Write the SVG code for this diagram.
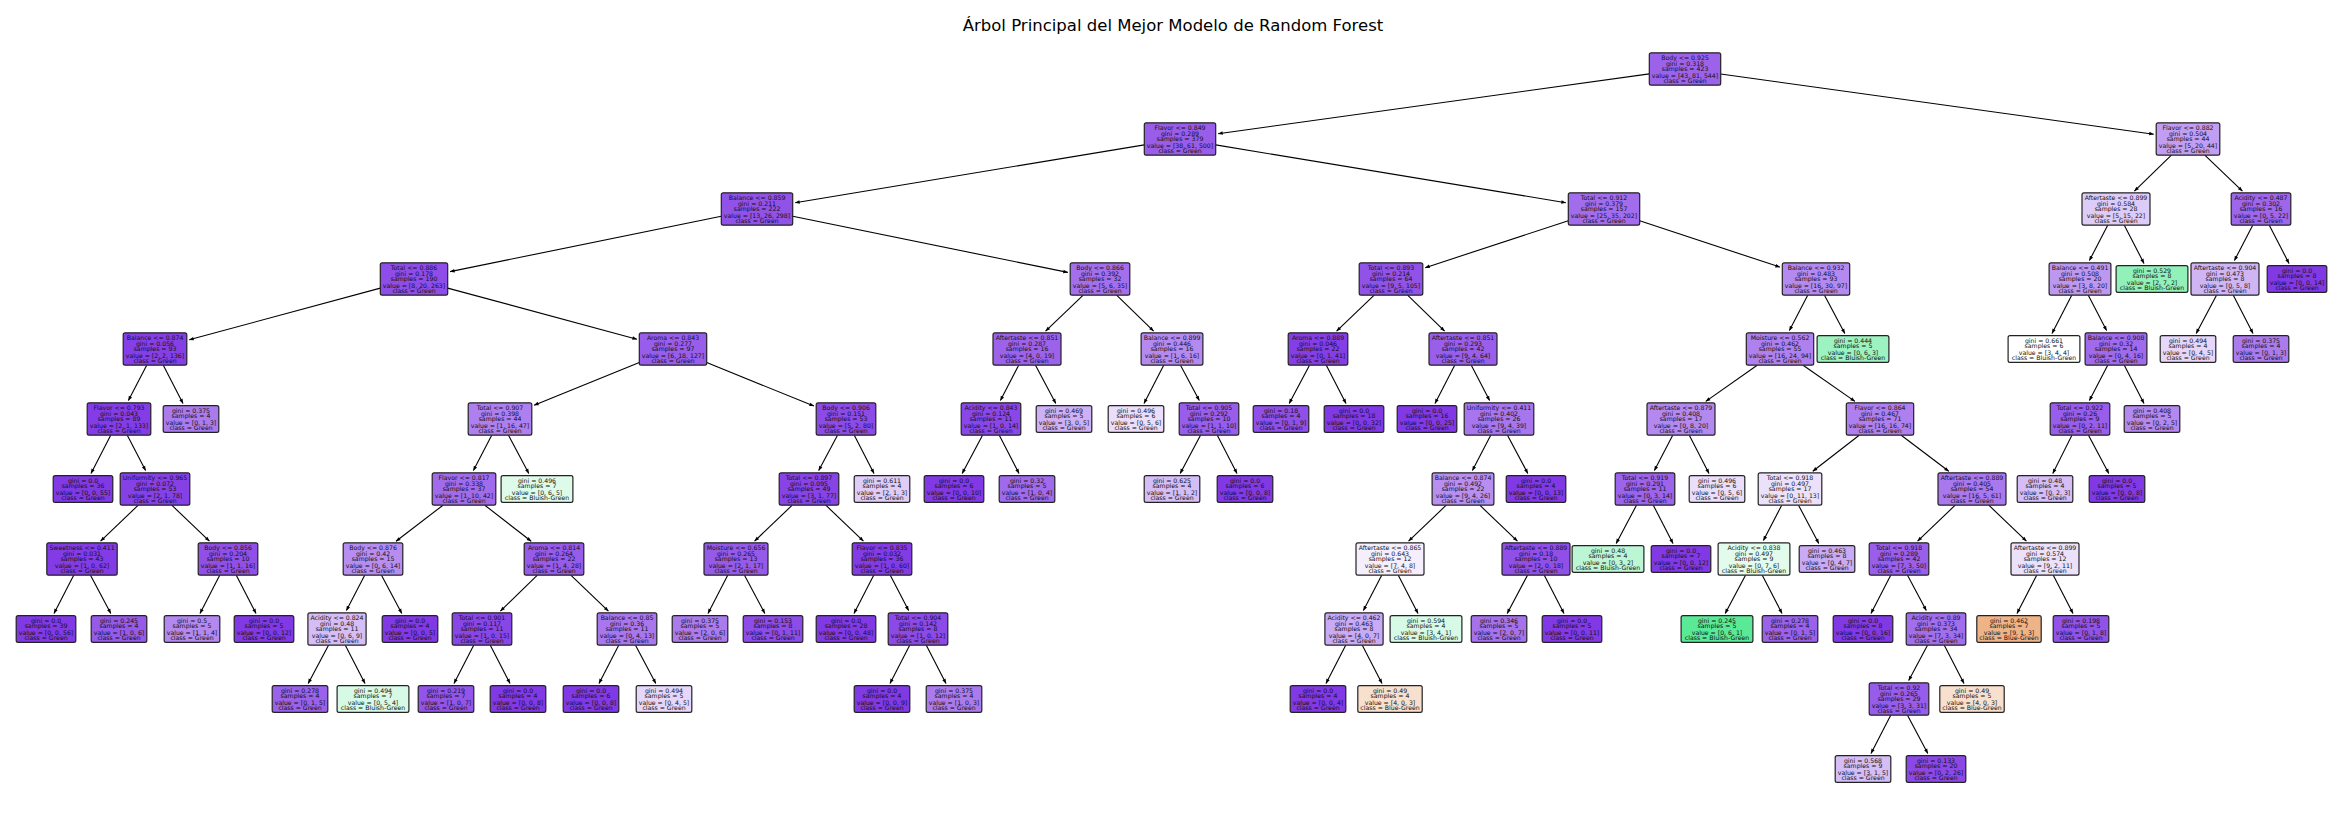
<svg xmlns="http://www.w3.org/2000/svg" width="2345" height="814" viewBox="0 0 2345 814">
<style>
rect.b{stroke:#222;stroke-width:1.2;rx:1.9px;ry:1.9px}
text{font-family:"DejaVu Sans","Liberation Sans",sans-serif;font-size:6.2px;text-anchor:middle;fill:#111}
#title{font-size:16.5px;fill:#000}
#edges line{stroke:#000;stroke-width:1.1;marker-end:url(#ah)}
</style>
<defs>
<marker id="ah" viewBox="-5 -2.5 6 5" refX="0" refY="0" markerWidth="6" markerHeight="5" markerUnits="userSpaceOnUse" orient="auto"><path d="M0.3,0 L-4.5,-1.8 L-4.5,1.8 Z" fill="#000"/></marker>
</defs>
<rect width="2345" height="814" fill="#fff"/>
<text id="title" x="1173" y="31">Árbol Principal del Mejor Modelo de Random Forest</text>
<g id="edges">
<line x1="1649.3" y1="73.9" x2="1218.2" y2="133.7"/>
<line x1="1720.7" y1="74" x2="2153.7" y2="134.2"/>
<line x1="1144.3" y1="144.9" x2="795.2" y2="202.7"/>
<line x1="1215.7" y1="144.9" x2="1565.8" y2="202.7"/>
<line x1="2171.4" y1="155.2" x2="2134.4" y2="191.1"/>
<line x1="2204.8" y1="155.2" x2="2242.4" y2="191.1"/>
<line x1="721.3" y1="216.3" x2="450.1" y2="271.6"/>
<line x1="792.7" y1="216.3" x2="1067.8" y2="272.4"/>
<line x1="1568.3" y1="220.7" x2="1425.2" y2="267.7"/>
<line x1="1639.7" y1="220.7" x2="1779.9" y2="267.1"/>
<line x1="2107.7" y1="225.2" x2="2089.4" y2="260.6"/>
<line x1="2124.3" y1="225.2" x2="2144" y2="263.4"/>
<line x1="2252.7" y1="225.2" x2="2234.4" y2="260.6"/>
<line x1="2269.3" y1="225.2" x2="2289" y2="263.4"/>
<line x1="380.3" y1="288.1" x2="189.2" y2="339.8"/>
<line x1="447.7" y1="288.1" x2="636.9" y2="339.2"/>
<line x1="1083.2" y1="295.2" x2="1045.6" y2="331.1"/>
<line x1="1116.6" y1="295.2" x2="1153.6" y2="331.1"/>
<line x1="1374.2" y1="295.2" x2="1336.6" y2="331.1"/>
<line x1="1407.6" y1="295.2" x2="1444.6" y2="331.1"/>
<line x1="1807.7" y1="295.2" x2="1789.4" y2="330.6"/>
<line x1="1824.5" y1="295.2" x2="1844.8" y2="333.4"/>
<line x1="2071.7" y1="295.2" x2="2052" y2="333.4"/>
<line x1="2088.3" y1="295.2" x2="2106.6" y2="330.6"/>
<line x1="2216.5" y1="295.2" x2="2196.2" y2="333.4"/>
<line x1="2233.3" y1="295.2" x2="2253" y2="333.4"/>
<line x1="146.7" y1="365.2" x2="128.4" y2="400.6"/>
<line x1="163.3" y1="365.2" x2="183" y2="403.4"/>
<line x1="639.3" y1="362.6" x2="534.1" y2="405.2"/>
<line x1="706.7" y1="362.6" x2="813.9" y2="406"/>
<line x1="1018.7" y1="365.2" x2="1000.4" y2="400.6"/>
<line x1="1035.5" y1="365.2" x2="1055.8" y2="403.4"/>
<line x1="1163.7" y1="365.2" x2="1144" y2="403.4"/>
<line x1="1180.5" y1="365.2" x2="1199.3" y2="400.6"/>
<line x1="1309.5" y1="365.2" x2="1289.2" y2="403.4"/>
<line x1="1326.3" y1="365.2" x2="1346" y2="403.4"/>
<line x1="1454.7" y1="365.2" x2="1435" y2="403.4"/>
<line x1="1471.3" y1="365.2" x2="1489.6" y2="400.6"/>
<line x1="1757.2" y1="365.2" x2="1705.8" y2="401.4"/>
<line x1="1803.1" y1="365.2" x2="1854.9" y2="401.4"/>
<line x1="2107.7" y1="365.2" x2="2089.4" y2="400.6"/>
<line x1="2124.3" y1="365.2" x2="2144" y2="403.4"/>
<line x1="110.7" y1="435.2" x2="91" y2="473.4"/>
<line x1="127.3" y1="435.2" x2="145.6" y2="470.6"/>
<line x1="491.7" y1="435.2" x2="473.4" y2="470.6"/>
<line x1="508.5" y1="435.2" x2="528.8" y2="473.4"/>
<line x1="837.5" y1="435.2" x2="818.7" y2="470.6"/>
<line x1="854.3" y1="435.2" x2="874" y2="473.4"/>
<line x1="982.5" y1="435.2" x2="962.2" y2="473.4"/>
<line x1="999.3" y1="435.2" x2="1019" y2="473.4"/>
<line x1="1200.5" y1="435.2" x2="1180.2" y2="473.4"/>
<line x1="1217.3" y1="435.2" x2="1237" y2="473.4"/>
<line x1="1490.7" y1="435.2" x2="1472.4" y2="470.6"/>
<line x1="1507.5" y1="435.2" x2="1527.8" y2="473.4"/>
<line x1="1672.7" y1="435.2" x2="1654.4" y2="470.6"/>
<line x1="1689.3" y1="435.2" x2="1709" y2="473.4"/>
<line x1="1859.2" y1="435.2" x2="1812.8" y2="471.3"/>
<line x1="1901.2" y1="435.2" x2="1948.8" y2="471.3"/>
<line x1="2071.9" y1="435.2" x2="2052.8" y2="473.4"/>
<line x1="2088.5" y1="435.2" x2="2108.8" y2="473.4"/>
<line x1="138.2" y1="505.2" x2="100.6" y2="541.1"/>
<line x1="171.8" y1="505.2" x2="209.4" y2="541.1"/>
<line x1="443" y1="505.2" x2="396" y2="541.3"/>
<line x1="484.8" y1="505.2" x2="531.2" y2="541.3"/>
<line x1="792.2" y1="505.2" x2="754.6" y2="541.1"/>
<line x1="825.8" y1="505.2" x2="863.4" y2="541.1"/>
<line x1="1446.2" y1="505.2" x2="1408.6" y2="541.1"/>
<line x1="1479.8" y1="505.2" x2="1517.4" y2="541.1"/>
<line x1="1636.5" y1="505.2" x2="1616.2" y2="543.4"/>
<line x1="1653.3" y1="505.2" x2="1673" y2="543.4"/>
<line x1="1781.7" y1="505.2" x2="1763.4" y2="540.6"/>
<line x1="1798.5" y1="505.2" x2="1818.8" y2="543.4"/>
<line x1="1955.2" y1="505.2" x2="1917.6" y2="541.1"/>
<line x1="1988.8" y1="505.2" x2="2026.4" y2="541.1"/>
<line x1="73.7" y1="575.2" x2="54" y2="613.4"/>
<line x1="90.5" y1="575.2" x2="110.8" y2="613.4"/>
<line x1="219.7" y1="575.2" x2="200" y2="613.4"/>
<line x1="236.3" y1="575.2" x2="256" y2="613.4"/>
<line x1="364.7" y1="575.2" x2="346.4" y2="610.6"/>
<line x1="381.5" y1="575.2" x2="401.8" y2="613.4"/>
<line x1="537.4" y1="575.2" x2="500.4" y2="611.1"/>
<line x1="570.8" y1="575.2" x2="608.4" y2="611.1"/>
<line x1="727.7" y1="575.2" x2="708" y2="613.4"/>
<line x1="744.5" y1="575.2" x2="764.8" y2="613.4"/>
<line x1="873.7" y1="575.2" x2="854" y2="613.4"/>
<line x1="890.3" y1="575.2" x2="908.6" y2="610.6"/>
<line x1="1381.7" y1="575.2" x2="1363.4" y2="610.6"/>
<line x1="1398.3" y1="575.2" x2="1418" y2="613.4"/>
<line x1="1527.5" y1="575.2" x2="1507.2" y2="613.4"/>
<line x1="1544.3" y1="575.2" x2="1564" y2="613.4"/>
<line x1="1745.5" y1="575.2" x2="1725.2" y2="613.4"/>
<line x1="1762.3" y1="575.2" x2="1782" y2="613.4"/>
<line x1="1890.7" y1="575.2" x2="1871" y2="613.4"/>
<line x1="1907.5" y1="575.2" x2="1926.3" y2="610.6"/>
<line x1="2036.7" y1="575.2" x2="2017" y2="613.4"/>
<line x1="2053.3" y1="575.2" x2="2073" y2="613.4"/>
<line x1="328.5" y1="645.2" x2="308.2" y2="683.4"/>
<line x1="345.3" y1="645.2" x2="365" y2="683.4"/>
<line x1="473.7" y1="645.2" x2="454" y2="683.4"/>
<line x1="490.3" y1="645.2" x2="510" y2="683.4"/>
<line x1="618.7" y1="645.2" x2="599" y2="683.4"/>
<line x1="635.5" y1="645.2" x2="655.8" y2="683.4"/>
<line x1="909.7" y1="645.2" x2="890" y2="683.4"/>
<line x1="926.3" y1="645.2" x2="946" y2="683.4"/>
<line x1="1345.7" y1="645.2" x2="1326" y2="683.4"/>
<line x1="1362.3" y1="645.2" x2="1382" y2="683.4"/>
<line x1="1927.5" y1="645.2" x2="1908.7" y2="680.6"/>
<line x1="1944.3" y1="645.2" x2="1964" y2="683.4"/>
<line x1="1890.7" y1="715.2" x2="1871" y2="753.4"/>
<line x1="1907.5" y1="715.2" x2="1927.8" y2="753.4"/>
</g>
<g id="n0" transform="translate(1685,69)"><rect class="b" x="-35.7" y="-16.15" width="71.4" height="32.3" fill="#9c63ea"/><text><tspan x="0" y="-9.2">Body &lt;= 0.925</tspan><tspan x="0" y="-3.1">gini = 0.318</tspan><tspan x="0" y="1.9">samples = 423</tspan><tspan x="0" y="8.7">value = [43, 81, 544]</tspan><tspan x="0" y="13.9">class = Green</tspan></text></g>
<g id="n1" transform="translate(1180,139)"><rect class="b" x="-35.7" y="-16.15" width="71.4" height="32.3" fill="#985de9"/><text><tspan x="0" y="-9.2">Flavor &lt;= 0.849</tspan><tspan x="0" y="-3.1">gini = 0.289</tspan><tspan x="0" y="1.9">samples = 379</tspan><tspan x="0" y="8.7">value = [38, 61, 500]</tspan><tspan x="0" y="13.9">class = Green</tspan></text></g>
<g id="n2" transform="translate(2188,139)"><rect class="b" x="-31.8" y="-16.15" width="63.6" height="32.3" fill="#c19ef2"/><text><tspan x="0" y="-9.2">Flavor &lt;= 0.882</tspan><tspan x="0" y="-3.1">gini = 0.504</tspan><tspan x="0" y="1.9">samples = 44</tspan><tspan x="0" y="8.7">value = [5, 20, 44]</tspan><tspan x="0" y="13.9">class = Green</tspan></text></g>
<g id="n3" transform="translate(757,209)"><rect class="b" x="-35.7" y="-16.15" width="71.4" height="32.3" fill="#9152e8"/><text><tspan x="0" y="-9.2">Balance &lt;= 0.859</tspan><tspan x="0" y="-3.1">gini = 0.211</tspan><tspan x="0" y="1.9">samples = 222</tspan><tspan x="0" y="8.7">value = [13, 26, 298]</tspan><tspan x="0" y="13.9">class = Green</tspan></text></g>
<g id="n4" transform="translate(1604,209)"><rect class="b" x="-35.7" y="-16.15" width="71.4" height="32.3" fill="#a26dec"/><text><tspan x="0" y="-9.2">Total &lt;= 0.912</tspan><tspan x="0" y="-3.1">gini = 0.379</tspan><tspan x="0" y="1.9">samples = 157</tspan><tspan x="0" y="8.7">value = [25, 35, 202]</tspan><tspan x="0" y="13.9">class = Green</tspan></text></g>
<g id="n5" transform="translate(2116,209)"><rect class="b" x="-34" y="-16.15" width="68" height="32.3" fill="#deccf8"/><text><tspan x="0" y="-9.2">Aftertaste &lt;= 0.899</tspan><tspan x="0" y="-3.1">gini = 0.584</tspan><tspan x="0" y="1.9">samples = 28</tspan><tspan x="0" y="8.7">value = [5, 15, 22]</tspan><tspan x="0" y="13.9">class = Green</tspan></text></g>
<g id="n6" transform="translate(2261,209)"><rect class="b" x="-29.8" y="-16.15" width="59.6" height="32.3" fill="#9e66eb"/><text><tspan x="0" y="-9.2">Acidity &lt;= 0.487</tspan><tspan x="0" y="-3.1">gini = 0.302</tspan><tspan x="0" y="1.9">samples = 16</tspan><tspan x="0" y="8.7">value = [0, 5, 22]</tspan><tspan x="0" y="13.9">class = Green</tspan></text></g>
<g id="n7" transform="translate(414,279)"><rect class="b" x="-33.7" y="-16.15" width="67.4" height="32.3" fill="#8e4de8"/><text><tspan x="0" y="-9.2">Total &lt;= 0.886</tspan><tspan x="0" y="-3.1">gini = 0.178</tspan><tspan x="0" y="1.9">samples = 190</tspan><tspan x="0" y="8.7">value = [8, 20, 263]</tspan><tspan x="0" y="13.9">class = Green</tspan></text></g>
<g id="n8" transform="translate(1100,279)"><rect class="b" x="-29.8" y="-16.15" width="59.6" height="32.3" fill="#a46fec"/><text><tspan x="0" y="-9.2">Body &lt;= 0.866</tspan><tspan x="0" y="-3.1">gini = 0.392</tspan><tspan x="0" y="1.9">samples = 32</tspan><tspan x="0" y="8.7">value = [5, 6, 35]</tspan><tspan x="0" y="13.9">class = Green</tspan></text></g>
<g id="n9" transform="translate(1391,279)"><rect class="b" x="-31.8" y="-16.15" width="63.6" height="32.3" fill="#9152e8"/><text><tspan x="0" y="-9.2">Total &lt;= 0.893</tspan><tspan x="0" y="-3.1">gini = 0.214</tspan><tspan x="0" y="1.9">samples = 64</tspan><tspan x="0" y="8.7">value = [9, 5, 105]</tspan><tspan x="0" y="13.9">class = Green</tspan></text></g>
<g id="n10" transform="translate(1816,279)"><rect class="b" x="-33.7" y="-16.15" width="67.4" height="32.3" fill="#b48af0"/><text><tspan x="0" y="-9.2">Balance &lt;= 0.932</tspan><tspan x="0" y="-3.1">gini = 0.483</tspan><tspan x="0" y="1.9">samples = 93</tspan><tspan x="0" y="8.7">value = [16, 30, 97]</tspan><tspan x="0" y="13.9">class = Green</tspan></text></g>
<g id="n11" transform="translate(2080,279)"><rect class="b" x="-30.9" y="-16.15" width="61.8" height="32.3" fill="#bd98f1"/><text><tspan x="0" y="-9.2">Balance &lt;= 0.491</tspan><tspan x="0" y="-3.1">gini = 0.508</tspan><tspan x="0" y="1.9">samples = 20</tspan><tspan x="0" y="8.7">value = [3, 8, 20]</tspan><tspan x="0" y="13.9">class = Green</tspan></text></g>
<g id="n12" transform="translate(2152,279)"><rect class="b" x="-35.9" y="-13.35" width="71.8" height="26.7" fill="#91f1b9"/><text><tspan x="0" y="-6.5">gini = 0.529</tspan><tspan x="0" y="-1.2">samples = 8</tspan><tspan x="0" y="5.5">value = [2, 7, 2]</tspan><tspan x="0" y="10.8">class = Bluish-Green</tspan></text></g>
<g id="n13" transform="translate(2225,279)"><rect class="b" x="-34" y="-16.15" width="68" height="32.3" fill="#d0b5f5"/><text><tspan x="0" y="-9.2">Aftertaste &lt;= 0.904</tspan><tspan x="0" y="-3.1">gini = 0.473</tspan><tspan x="0" y="1.9">samples = 8</tspan><tspan x="0" y="8.7">value = [0, 5, 8]</tspan><tspan x="0" y="13.9">class = Green</tspan></text></g>
<g id="n14" transform="translate(2297,279)"><rect class="b" x="-29.8" y="-13.35" width="59.6" height="26.7" fill="#8139e5"/><text><tspan x="0" y="-6.5">gini = 0.0</tspan><tspan x="0" y="-1.2">samples = 8</tspan><tspan x="0" y="5.5">value = [0, 0, 14]</tspan><tspan x="0" y="10.8">class = Green</tspan></text></g>
<g id="n15" transform="translate(155,349)"><rect class="b" x="-31.8" y="-16.15" width="63.6" height="32.3" fill="#853fe6"/><text><tspan x="0" y="-9.2">Balance &lt;= 0.874</tspan><tspan x="0" y="-3.1">gini = 0.056</tspan><tspan x="0" y="1.9">samples = 93</tspan><tspan x="0" y="8.7">value = [2, 2, 136]</tspan><tspan x="0" y="13.9">class = Green</tspan></text></g>
<g id="n16" transform="translate(673,349)"><rect class="b" x="-33.7" y="-16.15" width="67.4" height="32.3" fill="#985dea"/><text><tspan x="0" y="-9.2">Aroma &lt;= 0.843</tspan><tspan x="0" y="-3.1">gini = 0.277</tspan><tspan x="0" y="1.9">samples = 97</tspan><tspan x="0" y="8.7">value = [6, 18, 127]</tspan><tspan x="0" y="13.9">class = Green</tspan></text></g>
<g id="n17" transform="translate(1027,349)"><rect class="b" x="-34" y="-16.15" width="68" height="32.3" fill="#9c63ea"/><text><tspan x="0" y="-9.2">Aftertaste &lt;= 0.851</tspan><tspan x="0" y="-3.1">gini = 0.287</tspan><tspan x="0" y="1.9">samples = 16</tspan><tspan x="0" y="8.7">value = [4, 0, 19]</tspan><tspan x="0" y="13.9">class = Green</tspan></text></g>
<g id="n18" transform="translate(1172,349)"><rect class="b" x="-30.9" y="-16.15" width="61.8" height="32.3" fill="#b58af0"/><text><tspan x="0" y="-9.2">Balance &lt;= 0.899</tspan><tspan x="0" y="-3.1">gini = 0.446</tspan><tspan x="0" y="1.9">samples = 16</tspan><tspan x="0" y="8.7">value = [1, 6, 16]</tspan><tspan x="0" y="13.9">class = Green</tspan></text></g>
<g id="n19" transform="translate(1318,349)"><rect class="b" x="-29.8" y="-16.15" width="59.6" height="32.3" fill="#843ee6"/><text><tspan x="0" y="-9.2">Aroma &lt;= 0.889</tspan><tspan x="0" y="-3.1">gini = 0.046</tspan><tspan x="0" y="1.9">samples = 22</tspan><tspan x="0" y="8.7">value = [0, 1, 41]</tspan><tspan x="0" y="13.9">class = Green</tspan></text></g>
<g id="n20" transform="translate(1463,349)"><rect class="b" x="-34" y="-16.15" width="68" height="32.3" fill="#995fea"/><text><tspan x="0" y="-9.2">Aftertaste &lt;= 0.851</tspan><tspan x="0" y="-3.1">gini = 0.293</tspan><tspan x="0" y="1.9">samples = 42</tspan><tspan x="0" y="8.7">value = [9, 4, 64]</tspan><tspan x="0" y="13.9">class = Green</tspan></text></g>
<g id="n21" transform="translate(1780,349)"><rect class="b" x="-33.7" y="-16.15" width="67.4" height="32.3" fill="#af81ee"/><text><tspan x="0" y="-9.2">Moisture &lt;= 0.562</tspan><tspan x="0" y="-3.1">gini = 0.462</tspan><tspan x="0" y="1.9">samples = 55</tspan><tspan x="0" y="8.7">value = [16, 24, 94]</tspan><tspan x="0" y="13.9">class = Green</tspan></text></g>
<g id="n22" transform="translate(1853,349)"><rect class="b" x="-35.9" y="-13.35" width="71.8" height="26.7" fill="#9cf2c0"/><text><tspan x="0" y="-6.5">gini = 0.444</tspan><tspan x="0" y="-1.2">samples = 5</tspan><tspan x="0" y="5.5">value = [0, 6, 3]</tspan><tspan x="0" y="10.8">class = Bluish-Green</tspan></text></g>
<g id="n23" transform="translate(2044,349)"><rect class="b" x="-35.9" y="-13.35" width="71.8" height="26.7" fill="#ffffff"/><text><tspan x="0" y="-6.5">gini = 0.661</tspan><tspan x="0" y="-1.2">samples = 6</tspan><tspan x="0" y="5.5">value = [3, 4, 4]</tspan><tspan x="0" y="10.8">class = Bluish-Green</tspan></text></g>
<g id="n24" transform="translate(2116,349)"><rect class="b" x="-30.9" y="-16.15" width="61.8" height="32.3" fill="#a06aec"/><text><tspan x="0" y="-9.2">Balance &lt;= 0.908</tspan><tspan x="0" y="-3.1">gini = 0.32</tspan><tspan x="0" y="1.9">samples = 14</tspan><tspan x="0" y="8.7">value = [0, 4, 16]</tspan><tspan x="0" y="13.9">class = Green</tspan></text></g>
<g id="n25" transform="translate(2188,349)"><rect class="b" x="-27.8" y="-13.35" width="55.6" height="26.7" fill="#e6d7fa"/><text><tspan x="0" y="-6.5">gini = 0.494</tspan><tspan x="0" y="-1.2">samples = 4</tspan><tspan x="0" y="5.5">value = [0, 4, 5]</tspan><tspan x="0" y="10.8">class = Green</tspan></text></g>
<g id="n26" transform="translate(2261,349)"><rect class="b" x="-27.8" y="-13.35" width="55.6" height="26.7" fill="#ab7bee"/><text><tspan x="0" y="-6.5">gini = 0.375</tspan><tspan x="0" y="-1.2">samples = 4</tspan><tspan x="0" y="5.5">value = [0, 1, 3]</tspan><tspan x="0" y="10.8">class = Green</tspan></text></g>
<g id="n27" transform="translate(119,419)"><rect class="b" x="-31.8" y="-16.15" width="63.6" height="32.3" fill="#843de6"/><text><tspan x="0" y="-9.2">Flavor &lt;= 0.793</tspan><tspan x="0" y="-3.1">gini = 0.043</tspan><tspan x="0" y="1.9">samples = 89</tspan><tspan x="0" y="8.7">value = [2, 1, 133]</tspan><tspan x="0" y="13.9">class = Green</tspan></text></g>
<g id="n28" transform="translate(191,419)"><rect class="b" x="-27.8" y="-13.35" width="55.6" height="26.7" fill="#ab7bee"/><text><tspan x="0" y="-6.5">gini = 0.375</tspan><tspan x="0" y="-1.2">samples = 4</tspan><tspan x="0" y="5.5">value = [0, 1, 3]</tspan><tspan x="0" y="10.8">class = Green</tspan></text></g>
<g id="n29" transform="translate(500,419)"><rect class="b" x="-31.8" y="-16.15" width="63.6" height="32.3" fill="#ae7fee"/><text><tspan x="0" y="-9.2">Total &lt;= 0.907</tspan><tspan x="0" y="-3.1">gini = 0.398</tspan><tspan x="0" y="1.9">samples = 44</tspan><tspan x="0" y="8.7">value = [1, 16, 47]</tspan><tspan x="0" y="13.9">class = Green</tspan></text></g>
<g id="n30" transform="translate(846,419)"><rect class="b" x="-29.8" y="-16.15" width="59.6" height="32.3" fill="#8c4ae7"/><text><tspan x="0" y="-9.2">Body &lt;= 0.906</tspan><tspan x="0" y="-3.1">gini = 0.151</tspan><tspan x="0" y="1.9">samples = 53</tspan><tspan x="0" y="8.7">value = [5, 2, 80]</tspan><tspan x="0" y="13.9">class = Green</tspan></text></g>
<g id="n31" transform="translate(991,419)"><rect class="b" x="-29.8" y="-16.15" width="59.6" height="32.3" fill="#8a47e7"/><text><tspan x="0" y="-9.2">Acidity &lt;= 0.843</tspan><tspan x="0" y="-3.1">gini = 0.124</tspan><tspan x="0" y="1.9">samples = 11</tspan><tspan x="0" y="8.7">value = [1, 0, 14]</tspan><tspan x="0" y="13.9">class = Green</tspan></text></g>
<g id="n32" transform="translate(1064,419)"><rect class="b" x="-27.8" y="-13.35" width="55.6" height="26.7" fill="#cdb0f5"/><text><tspan x="0" y="-6.5">gini = 0.469</tspan><tspan x="0" y="-1.2">samples = 5</tspan><tspan x="0" y="5.5">value = [3, 0, 5]</tspan><tspan x="0" y="10.8">class = Green</tspan></text></g>
<g id="n33" transform="translate(1136,419)"><rect class="b" x="-27.8" y="-13.35" width="55.6" height="26.7" fill="#eadefb"/><text><tspan x="0" y="-6.5">gini = 0.496</tspan><tspan x="0" y="-1.2">samples = 6</tspan><tspan x="0" y="5.5">value = [0, 5, 6]</tspan><tspan x="0" y="10.8">class = Green</tspan></text></g>
<g id="n34" transform="translate(1209,419)"><rect class="b" x="-29.8" y="-16.15" width="59.6" height="32.3" fill="#985dea"/><text><tspan x="0" y="-9.2">Total &lt;= 0.905</tspan><tspan x="0" y="-3.1">gini = 0.292</tspan><tspan x="0" y="1.9">samples = 10</tspan><tspan x="0" y="8.7">value = [1, 1, 10]</tspan><tspan x="0" y="13.9">class = Green</tspan></text></g>
<g id="n35" transform="translate(1281,419)"><rect class="b" x="-27.8" y="-13.35" width="55.6" height="26.7" fill="#8f4fe8"/><text><tspan x="0" y="-6.5">gini = 0.18</tspan><tspan x="0" y="-1.2">samples = 4</tspan><tspan x="0" y="5.5">value = [0, 1, 9]</tspan><tspan x="0" y="10.8">class = Green</tspan></text></g>
<g id="n36" transform="translate(1354,419)"><rect class="b" x="-29.8" y="-13.35" width="59.6" height="26.7" fill="#8139e5"/><text><tspan x="0" y="-6.5">gini = 0.0</tspan><tspan x="0" y="-1.2">samples = 18</tspan><tspan x="0" y="5.5">value = [0, 0, 32]</tspan><tspan x="0" y="10.8">class = Green</tspan></text></g>
<g id="n37" transform="translate(1427,419)"><rect class="b" x="-29.8" y="-13.35" width="59.6" height="26.7" fill="#8139e5"/><text><tspan x="0" y="-6.5">gini = 0.0</tspan><tspan x="0" y="-1.2">samples = 16</tspan><tspan x="0" y="5.5">value = [0, 0, 25]</tspan><tspan x="0" y="10.8">class = Green</tspan></text></g>
<g id="n38" transform="translate(1499,419)"><rect class="b" x="-34.8" y="-16.15" width="69.6" height="32.3" fill="#a775ed"/><text><tspan x="0" y="-9.2">Uniformity &lt;= 0.411</tspan><tspan x="0" y="-3.1">gini = 0.402</tspan><tspan x="0" y="1.9">samples = 26</tspan><tspan x="0" y="8.7">value = [9, 4, 39]</tspan><tspan x="0" y="13.9">class = Green</tspan></text></g>
<g id="n39" transform="translate(1681,419)"><rect class="b" x="-34" y="-16.15" width="68" height="32.3" fill="#b388ef"/><text><tspan x="0" y="-9.2">Aftertaste &lt;= 0.879</tspan><tspan x="0" y="-3.1">gini = 0.408</tspan><tspan x="0" y="1.9">samples = 17</tspan><tspan x="0" y="8.7">value = [0, 8, 20]</tspan><tspan x="0" y="13.9">class = Green</tspan></text></g>
<g id="n40" transform="translate(1880,419)"><rect class="b" x="-33.7" y="-16.15" width="67.4" height="32.3" fill="#ae7fee"/><text><tspan x="0" y="-9.2">Flavor &lt;= 0.864</tspan><tspan x="0" y="-3.1">gini = 0.467</tspan><tspan x="0" y="1.9">samples = 71</tspan><tspan x="0" y="8.7">value = [16, 16, 74]</tspan><tspan x="0" y="13.9">class = Green</tspan></text></g>
<g id="n41" transform="translate(2080,419)"><rect class="b" x="-29.8" y="-16.15" width="59.6" height="32.3" fill="#985dea"/><text><tspan x="0" y="-9.2">Total &lt;= 0.922</tspan><tspan x="0" y="-3.1">gini = 0.26</tspan><tspan x="0" y="1.9">samples = 9</tspan><tspan x="0" y="8.7">value = [0, 2, 11]</tspan><tspan x="0" y="13.9">class = Green</tspan></text></g>
<g id="n42" transform="translate(2152,419)"><rect class="b" x="-27.8" y="-13.35" width="55.6" height="26.7" fill="#b388ef"/><text><tspan x="0" y="-6.5">gini = 0.408</tspan><tspan x="0" y="-1.2">samples = 5</tspan><tspan x="0" y="5.5">value = [0, 2, 5]</tspan><tspan x="0" y="10.8">class = Green</tspan></text></g>
<g id="n43" transform="translate(83,489)"><rect class="b" x="-29.8" y="-13.35" width="59.6" height="26.7" fill="#8139e5"/><text><tspan x="0" y="-6.5">gini = 0.0</tspan><tspan x="0" y="-1.2">samples = 36</tspan><tspan x="0" y="5.5">value = [0, 0, 55]</tspan><tspan x="0" y="10.8">class = Green</tspan></text></g>
<g id="n44" transform="translate(155,489)"><rect class="b" x="-34.8" y="-16.15" width="69.6" height="32.3" fill="#8641e6"/><text><tspan x="0" y="-9.2">Uniformity &lt;= 0.965</tspan><tspan x="0" y="-3.1">gini = 0.072</tspan><tspan x="0" y="1.9">samples = 53</tspan><tspan x="0" y="8.7">value = [2, 1, 78]</tspan><tspan x="0" y="13.9">class = Green</tspan></text></g>
<g id="n45" transform="translate(464,489)"><rect class="b" x="-31.8" y="-16.15" width="63.6" height="32.3" fill="#a16cec"/><text><tspan x="0" y="-9.2">Flavor &lt;= 0.817</tspan><tspan x="0" y="-3.1">gini = 0.338</tspan><tspan x="0" y="1.9">samples = 37</tspan><tspan x="0" y="8.7">value = [1, 10, 42]</tspan><tspan x="0" y="13.9">class = Green</tspan></text></g>
<g id="n46" transform="translate(537,489)"><rect class="b" x="-35.9" y="-13.35" width="71.8" height="26.7" fill="#defbea"/><text><tspan x="0" y="-6.5">gini = 0.496</tspan><tspan x="0" y="-1.2">samples = 7</tspan><tspan x="0" y="5.5">value = [0, 6, 5]</tspan><tspan x="0" y="10.8">class = Bluish-Green</tspan></text></g>
<g id="n47" transform="translate(809,489)"><rect class="b" x="-29.8" y="-16.15" width="59.6" height="32.3" fill="#8743e6"/><text><tspan x="0" y="-9.2">Total &lt;= 0.897</tspan><tspan x="0" y="-3.1">gini = 0.095</tspan><tspan x="0" y="1.9">samples = 49</tspan><tspan x="0" y="8.7">value = [3, 1, 77]</tspan><tspan x="0" y="13.9">class = Green</tspan></text></g>
<g id="n48" transform="translate(882,489)"><rect class="b" x="-27.8" y="-13.35" width="55.6" height="26.7" fill="#dfcdf8"/><text><tspan x="0" y="-6.5">gini = 0.611</tspan><tspan x="0" y="-1.2">samples = 4</tspan><tspan x="0" y="5.5">value = [2, 1, 3]</tspan><tspan x="0" y="10.8">class = Green</tspan></text></g>
<g id="n49" transform="translate(954,489)"><rect class="b" x="-29.8" y="-13.35" width="59.6" height="26.7" fill="#8139e5"/><text><tspan x="0" y="-6.5">gini = 0.0</tspan><tspan x="0" y="-1.2">samples = 6</tspan><tspan x="0" y="5.5">value = [0, 0, 10]</tspan><tspan x="0" y="10.8">class = Green</tspan></text></g>
<g id="n50" transform="translate(1027,489)"><rect class="b" x="-27.8" y="-13.35" width="55.6" height="26.7" fill="#a06aec"/><text><tspan x="0" y="-6.5">gini = 0.32</tspan><tspan x="0" y="-1.2">samples = 5</tspan><tspan x="0" y="5.5">value = [1, 0, 4]</tspan><tspan x="0" y="10.8">class = Green</tspan></text></g>
<g id="n51" transform="translate(1172,489)"><rect class="b" x="-27.8" y="-13.35" width="55.6" height="26.7" fill="#d5bdf6"/><text><tspan x="0" y="-6.5">gini = 0.625</tspan><tspan x="0" y="-1.2">samples = 4</tspan><tspan x="0" y="5.5">value = [1, 1, 2]</tspan><tspan x="0" y="10.8">class = Green</tspan></text></g>
<g id="n52" transform="translate(1245,489)"><rect class="b" x="-27.8" y="-13.35" width="55.6" height="26.7" fill="#8139e5"/><text><tspan x="0" y="-6.5">gini = 0.0</tspan><tspan x="0" y="-1.2">samples = 6</tspan><tspan x="0" y="5.5">value = [0, 0, 8]</tspan><tspan x="0" y="10.8">class = Green</tspan></text></g>
<g id="n53" transform="translate(1463,489)"><rect class="b" x="-30.9" y="-16.15" width="61.8" height="32.3" fill="#b88ff0"/><text><tspan x="0" y="-9.2">Balance &lt;= 0.874</tspan><tspan x="0" y="-3.1">gini = 0.492</tspan><tspan x="0" y="1.9">samples = 22</tspan><tspan x="0" y="8.7">value = [9, 4, 26]</tspan><tspan x="0" y="13.9">class = Green</tspan></text></g>
<g id="n54" transform="translate(1536,489)"><rect class="b" x="-29.8" y="-13.35" width="59.6" height="26.7" fill="#8139e5"/><text><tspan x="0" y="-6.5">gini = 0.0</tspan><tspan x="0" y="-1.2">samples = 4</tspan><tspan x="0" y="5.5">value = [0, 0, 13]</tspan><tspan x="0" y="10.8">class = Green</tspan></text></g>
<g id="n55" transform="translate(1645,489)"><rect class="b" x="-29.8" y="-16.15" width="59.6" height="32.3" fill="#9c63eb"/><text><tspan x="0" y="-9.2">Total &lt;= 0.919</tspan><tspan x="0" y="-3.1">gini = 0.291</tspan><tspan x="0" y="1.9">samples = 11</tspan><tspan x="0" y="8.7">value = [0, 3, 14]</tspan><tspan x="0" y="13.9">class = Green</tspan></text></g>
<g id="n56" transform="translate(1717,489)"><rect class="b" x="-27.8" y="-13.35" width="55.6" height="26.7" fill="#eadefb"/><text><tspan x="0" y="-6.5">gini = 0.496</tspan><tspan x="0" y="-1.2">samples = 6</tspan><tspan x="0" y="5.5">value = [0, 5, 6]</tspan><tspan x="0" y="10.8">class = Green</tspan></text></g>
<g id="n57" transform="translate(1790,489)"><rect class="b" x="-31.8" y="-16.15" width="63.6" height="32.3" fill="#ece1fb"/><text><tspan x="0" y="-9.2">Total &lt;= 0.918</tspan><tspan x="0" y="-3.1">gini = 0.497</tspan><tspan x="0" y="1.9">samples = 17</tspan><tspan x="0" y="8.7">value = [0, 11, 13]</tspan><tspan x="0" y="13.9">class = Green</tspan></text></g>
<g id="n58" transform="translate(1972,489)"><rect class="b" x="-34" y="-16.15" width="68" height="32.3" fill="#a978ed"/><text><tspan x="0" y="-9.2">Aftertaste &lt;= 0.889</tspan><tspan x="0" y="-3.1">gini = 0.405</tspan><tspan x="0" y="1.9">samples = 54</tspan><tspan x="0" y="8.7">value = [16, 5, 61]</tspan><tspan x="0" y="13.9">class = Green</tspan></text></g>
<g id="n59" transform="translate(2045,489)"><rect class="b" x="-27.8" y="-13.35" width="55.6" height="26.7" fill="#d5bdf6"/><text><tspan x="0" y="-6.5">gini = 0.48</tspan><tspan x="0" y="-1.2">samples = 4</tspan><tspan x="0" y="5.5">value = [0, 2, 3]</tspan><tspan x="0" y="10.8">class = Green</tspan></text></g>
<g id="n60" transform="translate(2117,489)"><rect class="b" x="-27.8" y="-13.35" width="55.6" height="26.7" fill="#8139e5"/><text><tspan x="0" y="-6.5">gini = 0.0</tspan><tspan x="0" y="-1.2">samples = 5</tspan><tspan x="0" y="5.5">value = [0, 0, 8]</tspan><tspan x="0" y="10.8">class = Green</tspan></text></g>
<g id="n61" transform="translate(82,559)"><rect class="b" x="-35.2" y="-16.15" width="70.4" height="32.3" fill="#833ce5"/><text><tspan x="0" y="-9.2">Sweetness &lt;= 0.411</tspan><tspan x="0" y="-3.1">gini = 0.031</tspan><tspan x="0" y="1.9">samples = 43</tspan><tspan x="0" y="8.7">value = [1, 0, 62]</tspan><tspan x="0" y="13.9">class = Green</tspan></text></g>
<g id="n62" transform="translate(228,559)"><rect class="b" x="-29.8" y="-16.15" width="59.6" height="32.3" fill="#9050e8"/><text><tspan x="0" y="-9.2">Body &lt;= 0.856</tspan><tspan x="0" y="-3.1">gini = 0.204</tspan><tspan x="0" y="1.9">samples = 10</tspan><tspan x="0" y="8.7">value = [1, 1, 16]</tspan><tspan x="0" y="13.9">class = Green</tspan></text></g>
<g id="n63" transform="translate(373,559)"><rect class="b" x="-29.8" y="-16.15" width="59.6" height="32.3" fill="#b78ef0"/><text><tspan x="0" y="-9.2">Body &lt;= 0.876</tspan><tspan x="0" y="-3.1">gini = 0.42</tspan><tspan x="0" y="1.9">samples = 15</tspan><tspan x="0" y="8.7">value = [0, 6, 14]</tspan><tspan x="0" y="13.9">class = Green</tspan></text></g>
<g id="n64" transform="translate(554,559)"><rect class="b" x="-29.8" y="-16.15" width="59.6" height="32.3" fill="#975be9"/><text><tspan x="0" y="-9.2">Aroma &lt;= 0.814</tspan><tspan x="0" y="-3.1">gini = 0.264</tspan><tspan x="0" y="1.9">samples = 22</tspan><tspan x="0" y="8.7">value = [1, 4, 28]</tspan><tspan x="0" y="13.9">class = Green</tspan></text></g>
<g id="n65" transform="translate(736,559)"><rect class="b" x="-32" y="-16.15" width="64" height="32.3" fill="#965ae9"/><text><tspan x="0" y="-9.2">Moisture &lt;= 0.656</tspan><tspan x="0" y="-3.1">gini = 0.265</tspan><tspan x="0" y="1.9">samples = 13</tspan><tspan x="0" y="8.7">value = [2, 1, 17]</tspan><tspan x="0" y="13.9">class = Green</tspan></text></g>
<g id="n66" transform="translate(882,559)"><rect class="b" x="-29.8" y="-16.15" width="59.6" height="32.3" fill="#833ce5"/><text><tspan x="0" y="-9.2">Flavor &lt;= 0.835</tspan><tspan x="0" y="-3.1">gini = 0.032</tspan><tspan x="0" y="1.9">samples = 36</tspan><tspan x="0" y="8.7">value = [1, 0, 60]</tspan><tspan x="0" y="13.9">class = Green</tspan></text></g>
<g id="n67" transform="translate(1390,559)"><rect class="b" x="-34" y="-16.15" width="68" height="32.3" fill="#f4eefd"/><text><tspan x="0" y="-9.2">Aftertaste &lt;= 0.865</tspan><tspan x="0" y="-3.1">gini = 0.643</tspan><tspan x="0" y="1.9">samples = 12</tspan><tspan x="0" y="8.7">value = [7, 4, 8]</tspan><tspan x="0" y="13.9">class = Green</tspan></text></g>
<g id="n68" transform="translate(1536,559)"><rect class="b" x="-34" y="-16.15" width="68" height="32.3" fill="#8f4fe8"/><text><tspan x="0" y="-9.2">Aftertaste &lt;= 0.889</tspan><tspan x="0" y="-3.1">gini = 0.18</tspan><tspan x="0" y="1.9">samples = 10</tspan><tspan x="0" y="8.7">value = [2, 0, 18]</tspan><tspan x="0" y="13.9">class = Green</tspan></text></g>
<g id="n69" transform="translate(1608,559)"><rect class="b" x="-35.9" y="-13.35" width="71.8" height="26.7" fill="#bdf6d5"/><text><tspan x="0" y="-6.5">gini = 0.48</tspan><tspan x="0" y="-1.2">samples = 4</tspan><tspan x="0" y="5.5">value = [0, 3, 2]</tspan><tspan x="0" y="10.8">class = Bluish-Green</tspan></text></g>
<g id="n70" transform="translate(1681,559)"><rect class="b" x="-29.8" y="-13.35" width="59.6" height="26.7" fill="#8139e5"/><text><tspan x="0" y="-6.5">gini = 0.0</tspan><tspan x="0" y="-1.2">samples = 7</tspan><tspan x="0" y="5.5">value = [0, 0, 12]</tspan><tspan x="0" y="10.8">class = Green</tspan></text></g>
<g id="n71" transform="translate(1754,559)"><rect class="b" x="-35.9" y="-16.15" width="71.8" height="32.3" fill="#e3fbed"/><text><tspan x="0" y="-9.2">Acidity &lt;= 0.838</tspan><tspan x="0" y="-3.1">gini = 0.497</tspan><tspan x="0" y="1.9">samples = 9</tspan><tspan x="0" y="8.7">value = [0, 7, 6]</tspan><tspan x="0" y="13.9">class = Bluish-Green</tspan></text></g>
<g id="n72" transform="translate(1827,559)"><rect class="b" x="-27.8" y="-13.35" width="55.6" height="26.7" fill="#c9aaf4"/><text><tspan x="0" y="-6.5">gini = 0.463</tspan><tspan x="0" y="-1.2">samples = 8</tspan><tspan x="0" y="5.5">value = [0, 4, 7]</tspan><tspan x="0" y="10.8">class = Green</tspan></text></g>
<g id="n73" transform="translate(1899,559)"><rect class="b" x="-29.8" y="-16.15" width="59.6" height="32.3" fill="#995eea"/><text><tspan x="0" y="-9.2">Total &lt;= 0.918</tspan><tspan x="0" y="-3.1">gini = 0.289</tspan><tspan x="0" y="1.9">samples = 42</tspan><tspan x="0" y="8.7">value = [7, 3, 50]</tspan><tspan x="0" y="13.9">class = Green</tspan></text></g>
<g id="n74" transform="translate(2045,559)"><rect class="b" x="-34" y="-16.15" width="68" height="32.3" fill="#ece1fb"/><text><tspan x="0" y="-9.2">Aftertaste &lt;= 0.899</tspan><tspan x="0" y="-3.1">gini = 0.574</tspan><tspan x="0" y="1.9">samples = 12</tspan><tspan x="0" y="8.7">value = [9, 2, 11]</tspan><tspan x="0" y="13.9">class = Green</tspan></text></g>
<g id="n75" transform="translate(46,629)"><rect class="b" x="-29.8" y="-13.35" width="59.6" height="26.7" fill="#8139e5"/><text><tspan x="0" y="-6.5">gini = 0.0</tspan><tspan x="0" y="-1.2">samples = 39</tspan><tspan x="0" y="5.5">value = [0, 0, 56]</tspan><tspan x="0" y="10.8">class = Green</tspan></text></g>
<g id="n76" transform="translate(119,629)"><rect class="b" x="-27.8" y="-13.35" width="55.6" height="26.7" fill="#965ae9"/><text><tspan x="0" y="-6.5">gini = 0.245</tspan><tspan x="0" y="-1.2">samples = 4</tspan><tspan x="0" y="5.5">value = [1, 0, 6]</tspan><tspan x="0" y="10.8">class = Green</tspan></text></g>
<g id="n77" transform="translate(192,629)"><rect class="b" x="-27.8" y="-13.35" width="55.6" height="26.7" fill="#b388ef"/><text><tspan x="0" y="-6.5">gini = 0.5</tspan><tspan x="0" y="-1.2">samples = 5</tspan><tspan x="0" y="5.5">value = [1, 1, 4]</tspan><tspan x="0" y="10.8">class = Green</tspan></text></g>
<g id="n78" transform="translate(264,629)"><rect class="b" x="-29.8" y="-13.35" width="59.6" height="26.7" fill="#8139e5"/><text><tspan x="0" y="-6.5">gini = 0.0</tspan><tspan x="0" y="-1.2">samples = 5</tspan><tspan x="0" y="5.5">value = [0, 0, 12]</tspan><tspan x="0" y="10.8">class = Green</tspan></text></g>
<g id="n79" transform="translate(337,629)"><rect class="b" x="-29.1" y="-16.15" width="58.2" height="32.3" fill="#d5bdf6"/><text><tspan x="0" y="-9.2">Acidity &lt;= 0.824</tspan><tspan x="0" y="-3.1">gini = 0.48</tspan><tspan x="0" y="1.9">samples = 11</tspan><tspan x="0" y="8.7">value = [0, 6, 9]</tspan><tspan x="0" y="13.9">class = Green</tspan></text></g>
<g id="n80" transform="translate(410,629)"><rect class="b" x="-27.8" y="-13.35" width="55.6" height="26.7" fill="#8139e5"/><text><tspan x="0" y="-6.5">gini = 0.0</tspan><tspan x="0" y="-1.2">samples = 4</tspan><tspan x="0" y="5.5">value = [0, 0, 5]</tspan><tspan x="0" y="10.8">class = Green</tspan></text></g>
<g id="n81" transform="translate(482,629)"><rect class="b" x="-29.8" y="-16.15" width="59.6" height="32.3" fill="#8946e7"/><text><tspan x="0" y="-9.2">Total &lt;= 0.901</tspan><tspan x="0" y="-3.1">gini = 0.117</tspan><tspan x="0" y="1.9">samples = 11</tspan><tspan x="0" y="8.7">value = [1, 0, 15]</tspan><tspan x="0" y="13.9">class = Green</tspan></text></g>
<g id="n82" transform="translate(627,629)"><rect class="b" x="-29.8" y="-16.15" width="59.6" height="32.3" fill="#a876ed"/><text><tspan x="0" y="-9.2">Balance &lt;= 0.85</tspan><tspan x="0" y="-3.1">gini = 0.36</tspan><tspan x="0" y="1.9">samples = 11</tspan><tspan x="0" y="8.7">value = [0, 4, 13]</tspan><tspan x="0" y="13.9">class = Green</tspan></text></g>
<g id="n83" transform="translate(700,629)"><rect class="b" x="-27.8" y="-13.35" width="55.6" height="26.7" fill="#ab7bee"/><text><tspan x="0" y="-6.5">gini = 0.375</tspan><tspan x="0" y="-1.2">samples = 5</tspan><tspan x="0" y="5.5">value = [2, 0, 6]</tspan><tspan x="0" y="10.8">class = Green</tspan></text></g>
<g id="n84" transform="translate(773,629)"><rect class="b" x="-29.8" y="-13.35" width="59.6" height="26.7" fill="#8d4be7"/><text><tspan x="0" y="-6.5">gini = 0.153</tspan><tspan x="0" y="-1.2">samples = 8</tspan><tspan x="0" y="5.5">value = [0, 1, 11]</tspan><tspan x="0" y="10.8">class = Green</tspan></text></g>
<g id="n85" transform="translate(846,629)"><rect class="b" x="-29.8" y="-13.35" width="59.6" height="26.7" fill="#8139e5"/><text><tspan x="0" y="-6.5">gini = 0.0</tspan><tspan x="0" y="-1.2">samples = 28</tspan><tspan x="0" y="5.5">value = [0, 0, 48]</tspan><tspan x="0" y="10.8">class = Green</tspan></text></g>
<g id="n86" transform="translate(918,629)"><rect class="b" x="-29.8" y="-16.15" width="59.6" height="32.3" fill="#8b4ae7"/><text><tspan x="0" y="-9.2">Total &lt;= 0.904</tspan><tspan x="0" y="-3.1">gini = 0.142</tspan><tspan x="0" y="1.9">samples = 8</tspan><tspan x="0" y="8.7">value = [1, 0, 12]</tspan><tspan x="0" y="13.9">class = Green</tspan></text></g>
<g id="n87" transform="translate(1354,629)"><rect class="b" x="-29.1" y="-16.15" width="58.2" height="32.3" fill="#c9aaf4"/><text><tspan x="0" y="-9.2">Acidity &lt;= 0.462</tspan><tspan x="0" y="-3.1">gini = 0.463</tspan><tspan x="0" y="1.9">samples = 8</tspan><tspan x="0" y="8.7">value = [4, 0, 7]</tspan><tspan x="0" y="13.9">class = Green</tspan></text></g>
<g id="n88" transform="translate(1426,629)"><rect class="b" x="-35.9" y="-13.35" width="71.8" height="26.7" fill="#d7fae6"/><text><tspan x="0" y="-6.5">gini = 0.594</tspan><tspan x="0" y="-1.2">samples = 4</tspan><tspan x="0" y="5.5">value = [3, 4, 1]</tspan><tspan x="0" y="10.8">class = Bluish-Green</tspan></text></g>
<g id="n89" transform="translate(1499,629)"><rect class="b" x="-27.8" y="-13.35" width="55.6" height="26.7" fill="#a572ec"/><text><tspan x="0" y="-6.5">gini = 0.346</tspan><tspan x="0" y="-1.2">samples = 5</tspan><tspan x="0" y="5.5">value = [2, 0, 7]</tspan><tspan x="0" y="10.8">class = Green</tspan></text></g>
<g id="n90" transform="translate(1572,629)"><rect class="b" x="-29.8" y="-13.35" width="59.6" height="26.7" fill="#8139e5"/><text><tspan x="0" y="-6.5">gini = 0.0</tspan><tspan x="0" y="-1.2">samples = 5</tspan><tspan x="0" y="5.5">value = [0, 0, 11]</tspan><tspan x="0" y="10.8">class = Green</tspan></text></g>
<g id="n91" transform="translate(1717,629)"><rect class="b" x="-35.9" y="-13.35" width="71.8" height="26.7" fill="#5ae996"/><text><tspan x="0" y="-6.5">gini = 0.245</tspan><tspan x="0" y="-1.2">samples = 5</tspan><tspan x="0" y="5.5">value = [0, 6, 1]</tspan><tspan x="0" y="10.8">class = Bluish-Green</tspan></text></g>
<g id="n92" transform="translate(1790,629)"><rect class="b" x="-27.8" y="-13.35" width="55.6" height="26.7" fill="#9a61ea"/><text><tspan x="0" y="-6.5">gini = 0.278</tspan><tspan x="0" y="-1.2">samples = 4</tspan><tspan x="0" y="5.5">value = [0, 1, 5]</tspan><tspan x="0" y="10.8">class = Green</tspan></text></g>
<g id="n93" transform="translate(1863,629)"><rect class="b" x="-29.8" y="-13.35" width="59.6" height="26.7" fill="#8139e5"/><text><tspan x="0" y="-6.5">gini = 0.0</tspan><tspan x="0" y="-1.2">samples = 8</tspan><tspan x="0" y="5.5">value = [0, 0, 16]</tspan><tspan x="0" y="10.8">class = Green</tspan></text></g>
<g id="n94" transform="translate(1936,629)"><rect class="b" x="-29.8" y="-16.15" width="59.6" height="32.3" fill="#a36eec"/><text><tspan x="0" y="-9.2">Acidity &lt;= 0.89</tspan><tspan x="0" y="-3.1">gini = 0.373</tspan><tspan x="0" y="1.9">samples = 34</tspan><tspan x="0" y="8.7">value = [7, 3, 34]</tspan><tspan x="0" y="13.9">class = Green</tspan></text></g>
<g id="n95" transform="translate(2009,629)"><rect class="b" x="-32.2" y="-13.35" width="64.4" height="26.7" fill="#efb388"/><text><tspan x="0" y="-6.5">gini = 0.462</tspan><tspan x="0" y="-1.2">samples = 7</tspan><tspan x="0" y="5.5">value = [9, 1, 3]</tspan><tspan x="0" y="10.8">class = Blue-Green</tspan></text></g>
<g id="n96" transform="translate(2081,629)"><rect class="b" x="-27.8" y="-13.35" width="55.6" height="26.7" fill="#9152e8"/><text><tspan x="0" y="-6.5">gini = 0.198</tspan><tspan x="0" y="-1.2">samples = 5</tspan><tspan x="0" y="5.5">value = [0, 1, 8]</tspan><tspan x="0" y="10.8">class = Green</tspan></text></g>
<g id="n97" transform="translate(300,699)"><rect class="b" x="-27.8" y="-13.35" width="55.6" height="26.7" fill="#9a61ea"/><text><tspan x="0" y="-6.5">gini = 0.278</tspan><tspan x="0" y="-1.2">samples = 4</tspan><tspan x="0" y="5.5">value = [0, 1, 5]</tspan><tspan x="0" y="10.8">class = Green</tspan></text></g>
<g id="n98" transform="translate(373,699)"><rect class="b" x="-35.9" y="-13.35" width="71.8" height="26.7" fill="#d7fae6"/><text><tspan x="0" y="-6.5">gini = 0.494</tspan><tspan x="0" y="-1.2">samples = 7</tspan><tspan x="0" y="5.5">value = [0, 5, 4]</tspan><tspan x="0" y="10.8">class = Bluish-Green</tspan></text></g>
<g id="n99" transform="translate(446,699)"><rect class="b" x="-27.8" y="-13.35" width="55.6" height="26.7" fill="#9355e9"/><text><tspan x="0" y="-6.5">gini = 0.219</tspan><tspan x="0" y="-1.2">samples = 7</tspan><tspan x="0" y="5.5">value = [1, 0, 7]</tspan><tspan x="0" y="10.8">class = Green</tspan></text></g>
<g id="n100" transform="translate(518,699)"><rect class="b" x="-27.8" y="-13.35" width="55.6" height="26.7" fill="#8139e5"/><text><tspan x="0" y="-6.5">gini = 0.0</tspan><tspan x="0" y="-1.2">samples = 4</tspan><tspan x="0" y="5.5">value = [0, 0, 8]</tspan><tspan x="0" y="10.8">class = Green</tspan></text></g>
<g id="n101" transform="translate(591,699)"><rect class="b" x="-27.8" y="-13.35" width="55.6" height="26.7" fill="#8139e5"/><text><tspan x="0" y="-6.5">gini = 0.0</tspan><tspan x="0" y="-1.2">samples = 6</tspan><tspan x="0" y="5.5">value = [0, 0, 8]</tspan><tspan x="0" y="10.8">class = Green</tspan></text></g>
<g id="n102" transform="translate(664,699)"><rect class="b" x="-27.8" y="-13.35" width="55.6" height="26.7" fill="#e6d7fa"/><text><tspan x="0" y="-6.5">gini = 0.494</tspan><tspan x="0" y="-1.2">samples = 5</tspan><tspan x="0" y="5.5">value = [0, 4, 5]</tspan><tspan x="0" y="10.8">class = Green</tspan></text></g>
<g id="n103" transform="translate(882,699)"><rect class="b" x="-27.8" y="-13.35" width="55.6" height="26.7" fill="#8139e5"/><text><tspan x="0" y="-6.5">gini = 0.0</tspan><tspan x="0" y="-1.2">samples = 4</tspan><tspan x="0" y="5.5">value = [0, 0, 9]</tspan><tspan x="0" y="10.8">class = Green</tspan></text></g>
<g id="n104" transform="translate(954,699)"><rect class="b" x="-27.8" y="-13.35" width="55.6" height="26.7" fill="#ab7bee"/><text><tspan x="0" y="-6.5">gini = 0.375</tspan><tspan x="0" y="-1.2">samples = 4</tspan><tspan x="0" y="5.5">value = [1, 0, 3]</tspan><tspan x="0" y="10.8">class = Green</tspan></text></g>
<g id="n105" transform="translate(1318,699)"><rect class="b" x="-27.8" y="-13.35" width="55.6" height="26.7" fill="#8139e5"/><text><tspan x="0" y="-6.5">gini = 0.0</tspan><tspan x="0" y="-1.2">samples = 4</tspan><tspan x="0" y="5.5">value = [0, 0, 4]</tspan><tspan x="0" y="10.8">class = Green</tspan></text></g>
<g id="n106" transform="translate(1390,699)"><rect class="b" x="-32.2" y="-13.35" width="64.4" height="26.7" fill="#f8e0ce"/><text><tspan x="0" y="-6.5">gini = 0.49</tspan><tspan x="0" y="-1.2">samples = 4</tspan><tspan x="0" y="5.5">value = [4, 0, 3]</tspan><tspan x="0" y="10.8">class = Blue-Green</tspan></text></g>
<g id="n107" transform="translate(1899,699)"><rect class="b" x="-29.8" y="-16.15" width="59.6" height="32.3" fill="#975cea"/><text><tspan x="0" y="-9.2">Total &lt;= 0.92</tspan><tspan x="0" y="-3.1">gini = 0.265</tspan><tspan x="0" y="1.9">samples = 29</tspan><tspan x="0" y="8.7">value = [3, 3, 31]</tspan><tspan x="0" y="13.9">class = Green</tspan></text></g>
<g id="n108" transform="translate(1972,699)"><rect class="b" x="-32.2" y="-13.35" width="64.4" height="26.7" fill="#f8e0ce"/><text><tspan x="0" y="-6.5">gini = 0.49</tspan><tspan x="0" y="-1.2">samples = 5</tspan><tspan x="0" y="5.5">value = [4, 0, 3]</tspan><tspan x="0" y="10.8">class = Blue-Green</tspan></text></g>
<g id="n109" transform="translate(1863,769)"><rect class="b" x="-27.8" y="-13.35" width="55.6" height="26.7" fill="#d5bdf6"/><text><tspan x="0" y="-6.5">gini = 0.568</tspan><tspan x="0" y="-1.2">samples = 9</tspan><tspan x="0" y="5.5">value = [3, 1, 5]</tspan><tspan x="0" y="10.8">class = Green</tspan></text></g>
<g id="n110" transform="translate(1936,769)"><rect class="b" x="-29.8" y="-13.35" width="59.6" height="26.7" fill="#8b48e7"/><text><tspan x="0" y="-6.5">gini = 0.133</tspan><tspan x="0" y="-1.2">samples = 20</tspan><tspan x="0" y="5.5">value = [0, 2, 26]</tspan><tspan x="0" y="10.8">class = Green</tspan></text></g>
</svg>
